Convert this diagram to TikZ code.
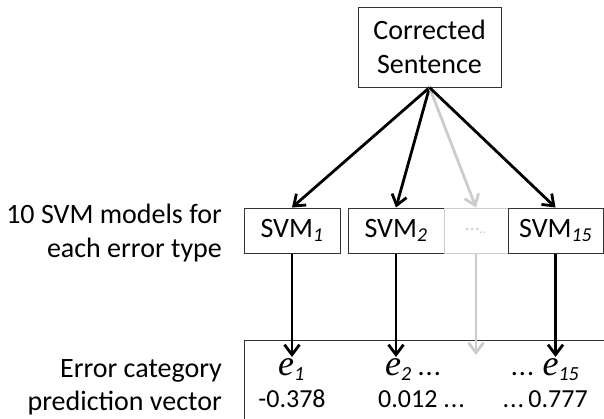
\documentclass[tikz,border=0pt]{standalone}
\usepackage{fontspec}
\setmainfont{Carlito}
\newfontfamily\serifit{Liberation Serif}
\usetikzlibrary{arrows.meta}
\definecolor{lgray}{gray}{0.8}
\definecolor{boxline}{gray}{0.2}
\tikzset{
  big/.style={font=\fontsize{28bp}{34bp}\selectfont},
  num/.style={font=\fontsize{26bp}{30bp}\selectfont},
  box/.style={draw=boxline, line width=1bp, inner sep=0pt, big},
  svm/.style={box, minimum height=45bp},
  arr/.style={line width=2.8bp, -{Straight Barb[length=10bp,width=15bp,line width=2.8bp]}},
  garr/.style={arr, draw=lgray},
  lab/.style={big, align=right, anchor=east, inner sep=0pt}
}
\newcommand{\ee}[1]{{\fontsize{36bp}{40bp}\selectfont\serifit\itshape e}\raisebox{-5bp}{\fontsize{20bp}{24bp}\selectfont\itshape #1}}
\newcommand{\dotsx}{.\kern1bp.\kern1bp.}
\begin{document}
\begin{tikzpicture}[x=1bp, y=-1bp]
\useasboundingbox (0,0) rectangle (604,418);
% top node
\node[box, minimum width=143bp, minimum height=80bp, align=center] (top) at (429.5,47) {Corrected\\Sentence};
% svm nodes
\node[svm, minimum width=96bp] (s1) at (292,230.5) {SVM\textsubscript{\itshape 1}};
\node[svm, minimum width=96bp] (s2) at (396,230.5) {SVM\textsubscript{\itshape 2}};
\node[svm, minimum width=64bp, draw=lgray, text=lgray] (sg) at (476,230.5) {\fontsize{20bp}{24bp}\selectfont\ldots\textsubscript{..}};
\node[svm, minimum width=95bp] (s15) at (555.5,230.5) {SVM\textsubscript{\itshape 15}};
% arrows from top
\draw[arr] (top.south) -- (s1.north);
\draw[arr] (top.south) -- (s2.north);
\draw[garr] (top.south) -- (sg.north);
\draw[arr] (top.south) -- (s15.north);
% output box
\coordinate (ob1) at (610,340);
\coordinate (ob2) at (244,340);
\coordinate (ob3) at (244,425);
\draw[boxline, line width=1bp] (ob1) -- (ob2) -- (ob3);
% arrow targets
\coordinate (t1) at (292,357);
\coordinate (t2) at (396,357);
\coordinate (tg) at (476,355);
\coordinate (t15) at (555.5,357);
\draw[arr] (s1.south) -- (t1);
\draw[arr] (s2.south) -- (t2);
\draw[garr] (sg.south) -- (tg);
\draw[arr] (s15.south) -- (t15);
% vector entries
\node[big, anchor=base west, inner sep=0pt] (e1) at (278,375) {\ee{1}};
\node[big, anchor=base west, inner sep=0pt] (e2) at (385,375) {\ee{2} \dotsx};
\node[big, anchor=base east, inner sep=0pt] (e15) at (579,375) {\dotsx{} \ee{15}};
\node[num, anchor=base] (v1) at (292,407) {-0.378};
\node[num, anchor=base west, inner sep=0pt] (v2) at (378,407) {0.012 \dotsx};
\node[num, anchor=base east, inner sep=0pt] (v15) at (588,407) {\dotsx{}\,0.777};
% left labels
\node[lab, anchor=base east] (l1) at (222,223) {10 SVM models for};
\node[lab, anchor=base east] (l2) at (222,257) {each error type};
\node[lab, anchor=base east] (l3) at (222,377) {Error category};
\node[lab, anchor=base east] (l4) at (222,410) {prediction vector};
\end{tikzpicture}
\end{document}
